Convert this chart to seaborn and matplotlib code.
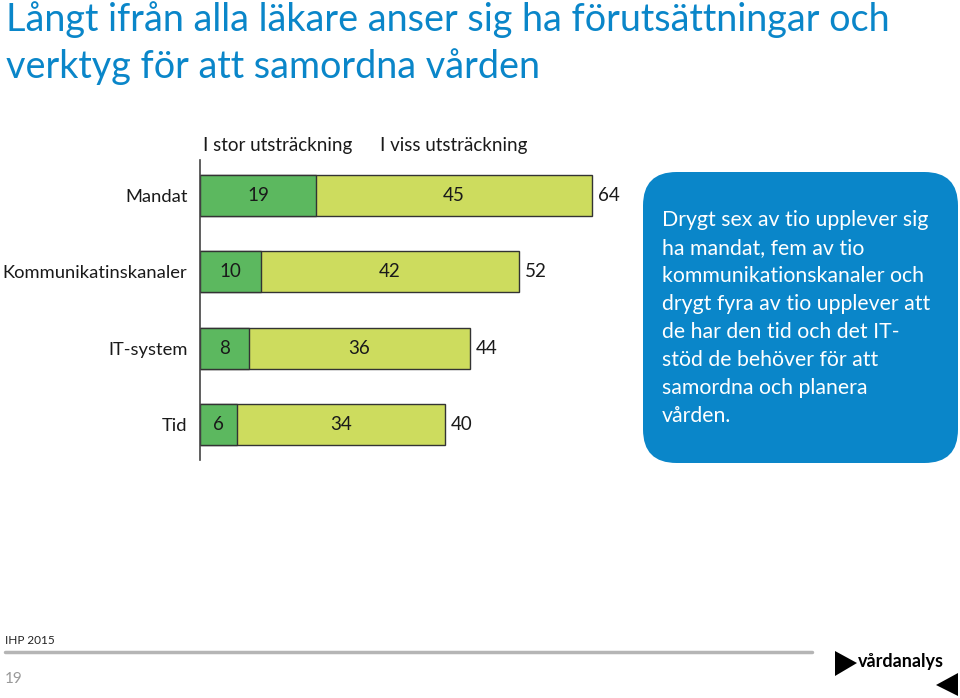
import matplotlib
matplotlib.use("Agg")
import matplotlib.pyplot as plt
from matplotlib.patches import FancyBboxPatch, Polygon
import pandas as pd
import seaborn as sns

categories = ["Mandat", "Kommunikatinskanaler", "IT-system", "Tid"]
stor = [19, 10, 8, 6]
viss = [45, 42, 36, 34]
series_names = ["I stor utsträckning", "I viss utsträckning"]

DARK = "#5cb85f"
LIGHT = "#cddc5e"
BLUE = "#0a86c9"
FONT = "Lato"

sns.set_theme(style="white")
plt.rcParams["font.family"] = [FONT, "DejaVu Sans"]

df = pd.DataFrame({"cat": categories, "stor": stor, "viss": viss})
df["total"] = df["stor"] + df["viss"]

W, H = 960, 698
fig = plt.figure(figsize=(9.6, 6.98), dpi=100)

# axes: x from 200px, 6.125 px per unit; y rows at 195..423 px
x0_px, ppu = 200, 6.125
xmax = 70
top_px, bot_px = 160, 460
ax = fig.add_axes([x0_px / W, 1 - bot_px / H, xmax * ppu / W, (bot_px - top_px) / H])

sns.barplot(data=df, y="cat", x="total", color=LIGHT, orient="h", width=0.54,
            edgecolor="#333333", linewidth=1.0, saturation=1, ax=ax)
sns.barplot(data=df, y="cat", x="stor", color=DARK, orient="h", width=0.54,
            edgecolor="#333333", linewidth=1.0, saturation=1, ax=ax)

ax.set_xlim(0, xmax)
ax.set_ylim(3.47, -0.47)
ax.set_xlabel("")
ax.set_ylabel("")
ax.set_xticks([])
for s in ["top", "right", "bottom"]:
    ax.spines[s].set_visible(False)
ax.spines["left"].set_color("#444444")
ax.spines["left"].set_linewidth(1.2)
ax.tick_params(axis="y", length=0, pad=9, labelsize=13.2)
for lbl in ax.get_yticklabels():
    lbl.set_fontfamily(FONT)
    lbl.set_color("#1a1a1a")

for i, row in df.iterrows():
    ax.text(row["stor"] / 2, i, f"{row['stor']}", ha="center", va="center",
            fontsize=13.5, color="#1a1a1a")
    ax.text(row["stor"] + row["viss"] / 2, i, f"{row['viss']}", ha="center",
            va="center", fontsize=13.5, color="#1a1a1a")
    ax.text(row["total"] + 1.0, i, f"{row['total']}", ha="left", va="center",
            fontsize=13.5, color="#1a1a1a")

# legend-like header text
fig.text(203 / W, 1 - 146 / H, series_names[0], ha="left", va="center",
         fontsize=13.5, color="#1a1a1a")
fig.text(380 / W, 1 - 146 / H, series_names[1], ha="left", va="center",
         fontsize=13.5, color="#1a1a1a")

# title
fig.text(6 / W, 1 - 20 / H, "Långt ifrån alla läkare anser sig ha förutsättningar och",
         ha="left", va="center", fontsize=27.2, color=BLUE)
fig.text(6 / W, 1 - 67 / H, "verktyg för att samordna vården",
         ha="left", va="center", fontsize=27.2, color=BLUE)

# info box
box = FancyBboxPatch((643 / W, 1 - 463 / H), (958 - 643) / W, (463 - 172) / H,
                     boxstyle="round,pad=0,rounding_size=0.035", transform=fig.transFigure,
                     facecolor=BLUE, edgecolor="none", mutation_aspect=W / H)
fig.patches.append(box)
box_lines = ["Drygt sex av tio upplever sig", "ha mandat, fem av tio",
             "kommunikationskanaler och", "drygt fyra av tio upplever att",
             "de har den tid och det IT-", "stöd de behöver för att",
             "samordna och planera", "vården."]
for k, line in enumerate(box_lines):
    fig.text(662 / W, 1 - (220 + k * 28) / H, line, ha="left", va="center",
             fontsize=15.3, color="white")

# footer
fig.text(5 / W, 1 - 640 / H, "IHP 2015", ha="left", va="center", fontsize=8.5, color="#222222")
fig.add_artist(plt.Line2D([5 / W, 812 / W], [1 - 652 / H, 1 - 652 / H],
                          transform=fig.transFigure, color="#b5b5b5", linewidth=2.5))
fig.text(5 / W, 1 - 679 / H, "19", ha="left", va="center", fontsize=11, color="#999999")

def px(x, y):
    return (x / W, 1 - y / H)

fig.patches.append(Polygon([px(835, 651), px(835, 676), px(857, 663)], closed=True,
                           transform=fig.transFigure, facecolor="black", edgecolor="none"))
fig.patches.append(Polygon([px(958, 673), px(958, 696), px(936, 685)], closed=True,
                           transform=fig.transFigure, facecolor="black", edgecolor="none"))
fig.text(858 / W, 1 - 661 / H, "vårdanalys", ha="left", va="center", fontsize=13,
         fontweight="bold", color="black")

fig.savefig("out.png", dpi=100)
